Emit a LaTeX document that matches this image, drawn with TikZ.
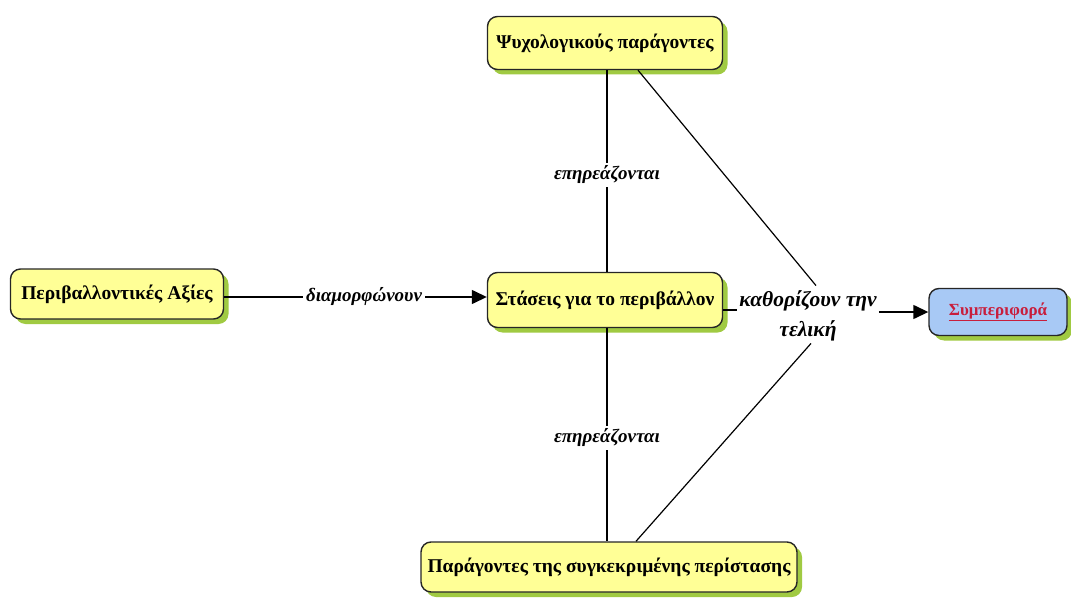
\documentclass[tikz,border=0pt]{standalone}
\usepackage{fontspec}
\setmainfont{Liberation Serif}
\usetikzlibrary{shadows,arrows.meta}
\definecolor{boxyellow}{RGB}{255,255,150}
\definecolor{boxblue}{RGB}{168,201,245}
\definecolor{shadowgreen}{RGB}{150,196,45}
\definecolor{behred}{RGB}{200,30,60}
\tikzset{
  concept/.style={draw=black!85, line width=1.4pt, rounded corners=10pt, fill=boxyellow,
    font=\bfseries\fontsize{19.5}{22}\selectfont, inner sep=0pt,
    drop shadow={shadow xshift=5pt, shadow yshift=-5pt, fill=shadowgreen, opacity=0.9}},
  lbl/.style={font=\bfseries\itshape\fontsize{19}{29}\selectfont, inner sep=3pt, align=center},
  conn/.style={line width=1.2pt, black},
  arr/.style={line width=1.4pt, black, -{Triangle[length=15pt,width=14pt]}}
}
\begin{document}
\begin{tikzpicture}[x=1pt,y=-1pt]
\useasboundingbox (0,0) rectangle (1071,599);
\node[concept, minimum width=213pt, minimum height=50pt] (axies) at (117,294) {Περιβαλλοντικές Αξίες};
\node[concept, minimum width=235pt, minimum height=53pt] (psy) at (605,43) {Ψυχολογικούς παράγοντες};
\node[concept, minimum width=235pt, minimum height=55pt] (stasis) at (605,300) {Στάσεις για το περιβάλλον};
\node[concept, minimum width=376pt, minimum height=50pt] (perist) at (609,567) {Παράγοντες της συγκεκριμένης περίστασης};
\node[concept, fill=boxblue, minimum width=138pt, minimum height=47pt,
  font=\bfseries\fontsize{17}{20}\selectfont] (beh) at (998,312) {\textcolor{behred}{\underline{Συμπεριφορά}}};

\node[lbl] (diam) at (364,297) {διαμορφώνουν};
\node[lbl] (ep1) at (607,175) {επηρεάζονται};
\node[lbl] (ep2) at (607,438) {επηρεάζονται};
\node[lbl, font=\bfseries\itshape\fontsize{21.5}{30}\selectfont, inner sep=2pt] (kath) at (808,316) {καθορίζουν την\\τελική};

\draw[conn] (axies.east |- diam) -- (diam);
\draw[arr] (diam) -- (stasis.west |- diam);
\draw[conn] (psy.south -| ep1) -- (ep1);
\draw[conn] (ep1) -- (stasis.north -| ep1);
\draw[conn] (stasis.south -| ep2) -- (ep2);
\draw[conn] (ep2) -- (perist.north -| ep2);
\draw[conn] ([xshift=33pt]psy.south) -- ([xshift=8pt,yshift=3pt]kath.north);
\draw[conn] ([xshift=27pt]perist.north) -- ([xshift=3pt]kath.south);
\draw[conn] ([yshift=-10pt]stasis.east) -- ([yshift=-10pt]stasis.east -| kath.west);
\draw[arr] (kath.east |- beh) -- (beh);
\end{tikzpicture}
\end{document}
